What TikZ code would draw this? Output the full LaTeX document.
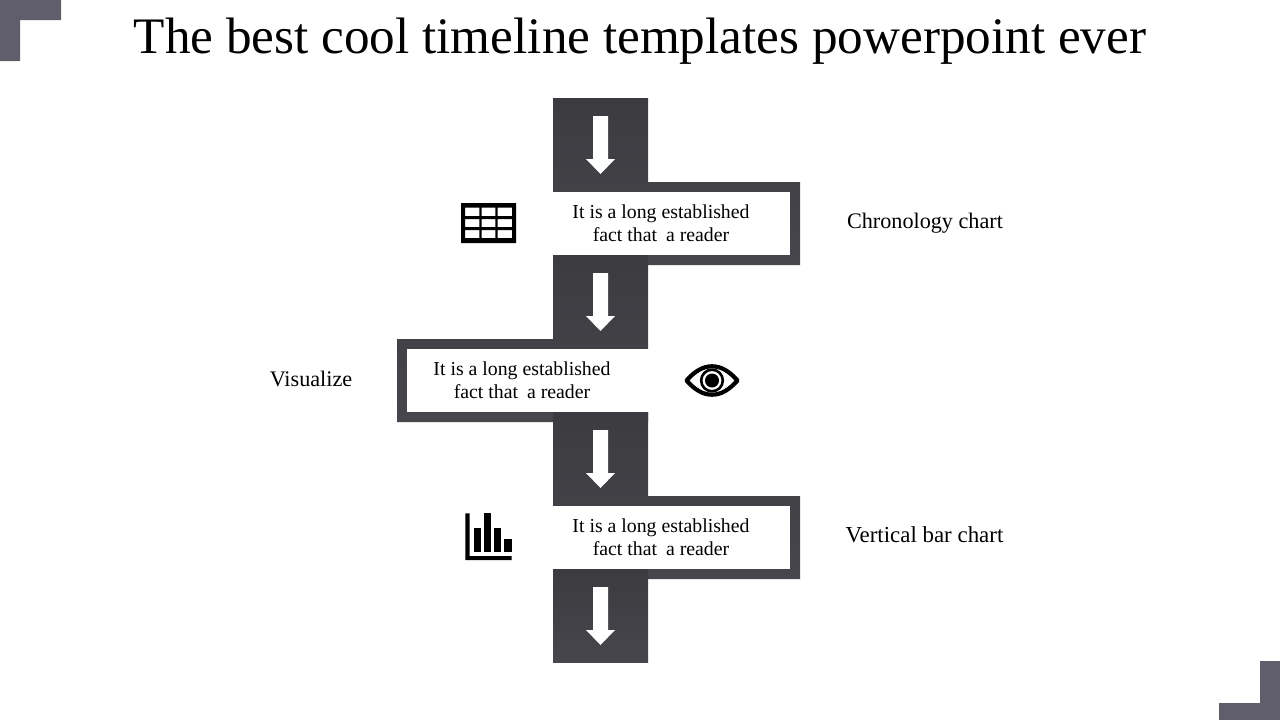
\documentclass[tikz,border=0pt]{standalone}
\usepackage{fontspec}
\setmainfont{Liberation Serif}
\definecolor{cornergrey}{HTML}{605E6A}
\definecolor{darktop}{HTML}{3C3B40}
\definecolor{darkbot}{HTML}{47464C}
\tikzset{
  x=1pt,y=-1pt,
  corner/.style={fill=cornergrey,draw=none},
  band/.style={top color=darktop,bottom color=darkbot,draw=none},
  downarrow/.style={fill=white,draw=none},
  icon/.style={fill=black,draw=none},
  titletext/.style={inner sep=0pt,anchor=base,font=\fontsize{51.2}{56}\selectfont},
  boxtext/.style={inner sep=0pt,align=center,font=\fontsize{19.8}{23}\selectfont},
  sidetext/.style={inner sep=0pt,anchor=base,font=\fontsize{22.2}{25}\selectfont},
}
\newcommand{\arrowat}[1]{\path[downarrow] (593,#1) -- (608,#1) -- (608,#1+43) -- (615,#1+43) -- (600.5,#1+58) -- (586,#1+43) -- (593,#1+43) -- cycle;}
\begin{document}
\begin{tikzpicture}
\useasboundingbox (0,0) rectangle (1280,720);
% corners
\path[corner] (0,0) -- (61,0) -- (61,20) -- (20,20) -- (20,61) -- (0,61) -- cycle;
\path[corner] (1280,661) -- (1280,720) -- (1219,720) -- (1219,703) -- (1260,703) -- (1260,661) -- cycle;
% bands
\path[band] (553,98) -- (648,98) -- (648,182) -- (800,182) -- (800,265) -- (553,265) -- cycle;
\path[band] (553,255) -- (648,255) -- (648,422) -- (397,422) -- (397,339) -- (553,339) -- cycle;
\path[band] (553,412) -- (648,412) -- (648,496) -- (800,496) -- (800,579) -- (553,579) -- cycle;
\path[band] (553,569) rectangle (648,662.7);
% white inner panels
\fill[white] (552,192) rectangle (790,255);
\fill[white] (407,349) rectangle (650,412);
\fill[white] (552,506) rectangle (790,569);
% arrows
\arrowat{116}
\arrowat{273}
\arrowat{430}
\arrowat{587}
% table icon
\path[icon,even odd rule] (461,203) rectangle (516,243)
  (465,207.7) rectangle (479.3,216) (481.7,207.7) rectangle (495.3,216) (497.7,207.7) rectangle (512,216)
  (465,219) rectangle (479.3,227) (481.7,219) rectangle (495.3,227) (497.7,219) rectangle (512,227)
  (465,230) rectangle (479.3,238) (481.7,230) rectangle (495.3,238) (497.7,230) rectangle (512,238);
% eye icon
\draw[line width=4.2pt,line join=round] (686.5,380.5) .. controls (695,371) and (703,366.3) .. (712,366.3) .. controls (721,366.3) and (729,371) .. (737.5,380.5) .. controls (729,390) and (721,394.7) .. (712,394.7) .. controls (703,394.7) and (695,390) .. (686.5,380.5) -- cycle;
\draw[line width=2.6pt] (712,380.5) circle (10.8);
\fill (712,380.5) circle (7);
% bar chart icon
\path[icon] (465.3,513.3) -- (469.7,513.3) -- (469.7,556) -- (511.7,556) -- (511.7,560) -- (465.3,560) -- cycle;
\path[icon] (473.7,527.7) rectangle (481,552.3);
\path[icon] (483.7,513.3) rectangle (491.3,552.3);
\path[icon] (494,527.7) rectangle (501.3,552.3);
\path[icon] (504.3,539.3) rectangle (511.7,552.3);
% text
\node[titletext] (title) at (640,53) {The best cool timeline templates powerpoint ever};
\node[boxtext] (t1) at (661,223.5) {It is a long established\\fact that\hspace{0.2em} a reader};
\node[boxtext] (t2) at (522,380.5) {It is a long established\\fact that\hspace{0.2em} a reader};
\node[boxtext] (t3) at (661,537.5) {It is a long established\\fact that\hspace{0.2em} a reader};
\node[sidetext] (s1) at (925,228) {Chronology chart};
\node[sidetext] (s2) at (311,386) {Visualize};
\node[sidetext,font=\fontsize{22.9}{25}\selectfont] (s3) at (924.5,542) {Vertical bar chart};
\end{tikzpicture}
\end{document}
